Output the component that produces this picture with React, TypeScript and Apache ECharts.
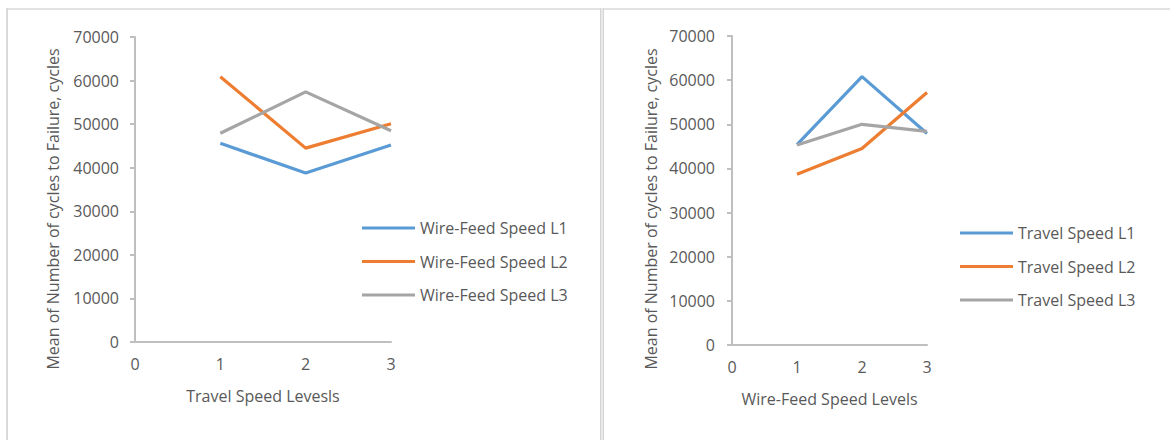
import React, { useEffect, useRef } from "react";
import * as echarts from "echarts";

// Levels on the horizontal axis (shared by both panels)
const levels = [1, 2, 3];

// Left panel: x = Travel Speed level, one line per Wire-Feed Speed level
const wireFeedNames = ["Wire-Feed Speed L1", "Wire-Feed Speed L2", "Wire-Feed Speed L3"];
const wireFeedL1 = [45600, 38800, 45200];
const wireFeedL2 = [60900, 44500, 50100];
const wireFeedL3 = [47900, 57400, 48500];

// Right panel: x = Wire-Feed Speed level, one line per Travel Speed level
const travelNames = ["Travel Speed L1", "Travel Speed L2", "Travel Speed L3"];
const travelL1 = [45400, 60800, 47900];
const travelL2 = [38700, 44500, 57200];
const travelL3 = [45300, 50000, 48400];

const xTicks = [0, 1, 2, 3];
const yTicks = [0, 10000, 20000, 30000, 40000, 50000, 60000, 70000];

const yTitle = "Mean of Number of cycles to Failure, cycles";
const leftXTitle = "Travel Speed Levesls";
const rightXTitle = "Wire-Feed Speed Levels";

const COLORS = ["#5b9bd5", "#ed7d31", "#a5a5a5"];
const TEXT = "#595959";
const AXIS = "#bfbfbf";
const FONT = "'Open Sans', sans-serif";

const pairs = (vals: number[]) => levels.map((l, i) => [l, vals[i]]);

const xAxisFor = (gridIndex: number, name: string) => ({
  type: "value" as const,
  gridIndex,
  min: xTicks[0],
  max: xTicks[xTicks.length - 1],
  interval: 1,
  name,
  nameLocation: "middle" as const,
  nameGap: 46,
  nameTextStyle: { color: TEXT, fontSize: 16, fontFamily: FONT },
  axisLine: { show: true, onZero: false, lineStyle: { color: AXIS, width: 2 } },
  axisTick: { show: false },
  axisLabel: { color: TEXT, fontSize: 16, fontFamily: FONT, margin: 14 },
  splitLine: { show: false },
});

const yAxisFor = (gridIndex: number, margin: number) => ({
  type: "value" as const,
  gridIndex,
  min: yTicks[0],
  max: yTicks[yTicks.length - 1],
  interval: 10000,
  axisLine: { show: true, lineStyle: { color: AXIS, width: 2 } },
  axisTick: { show: true, length: 5, lineStyle: { color: AXIS, width: 2 } },
  axisLabel: {
    color: TEXT,
    fontSize: 16,
    fontFamily: FONT,
    margin,
    formatter: (v: number) => String(v),
  },
  splitLine: { show: false },
});

const lineSeries = (name: string, vals: number[], idx: number, axisIndex: number) => ({
  type: "line" as const,
  name,
  xAxisIndex: axisIndex,
  yAxisIndex: axisIndex,
  data: pairs(vals),
  symbol: "none",
  color: COLORS[idx],
  lineStyle: { color: COLORS[idx], width: 3.2 },
});

const legendFor = (names: string[], left: number, top: number) => ({
  data: names,
  orient: "vertical" as const,
  left,
  top,
  padding: 0,
  icon: "rect",
  itemWidth: 53,
  itemHeight: 3.2,
  itemGap: 13.5,
  textStyle: { color: TEXT, fontSize: 16, fontFamily: FONT, lineHeight: 20 },
});

export default function App() {
  const ref = useRef<HTMLDivElement>(null);

  useEffect(() => {
    if (!ref.current) return;
    const chart = echarts.init(ref.current, null, { renderer: "svg" });
    chart.setOption({
      animation: false,
      backgroundColor: "#ffffff",
      textStyle: { fontFamily: FONT },
      grid: [
        { left: 135, top: 37, width: 256, height: 305 },
        { left: 732, top: 36, width: 195, height: 309 },
      ],
      xAxis: [xAxisFor(0, leftXTitle), xAxisFor(1, rightXTitle)],
      yAxis: [yAxisFor(0, 16), yAxisFor(1, 17)],
      legend: [legendFor(wireFeedNames, 362, 218), legendFor(travelNames, 960, 223)],
      series: [
        lineSeries(wireFeedNames[0], wireFeedL1, 0, 0),
        lineSeries(wireFeedNames[1], wireFeedL2, 1, 0),
        lineSeries(wireFeedNames[2], wireFeedL3, 2, 0),
        lineSeries(travelNames[0], travelL1, 0, 1),
        lineSeries(travelNames[1], travelL2, 1, 1),
        lineSeries(travelNames[2], travelL3, 2, 1),
      ],
      graphic: [
        // panel frames
        { type: "rect", shape: { x: 6, y: 8, width: 1164, height: 2 }, style: { fill: "#e2e2e2" }, silent: true },
        { type: "rect", shape: { x: 6, y: 8, width: 2, height: 432 }, style: { fill: "#d9d9d9" }, silent: true },
        { type: "rect", shape: { x: 600, y: 8, width: 4, height: 432 }, style: { fill: "#e9e9e9" }, silent: true },
        { type: "rect", shape: { x: 600, y: 8, width: 1, height: 432 }, style: { fill: "#d4d4d4" }, silent: true },
        { type: "rect", shape: { x: 603, y: 8, width: 1, height: 432 }, style: { fill: "#d4d4d4" }, silent: true },
        // vertical axis titles
        {
          type: "text", x: 53, y: 209, rotation: Math.PI / 2,
          style: { text: yTitle, fill: TEXT, font: `16px ${FONT}`, align: "center", verticalAlign: "middle" },
        },
        {
          type: "text", x: 651, y: 209, rotation: Math.PI / 2,
          style: { text: yTitle, fill: TEXT, font: `16px ${FONT}`, align: "center", verticalAlign: "middle" },
        },
      ],
    });
    return () => chart.dispose();
  }, []);

  return (
    <div
      ref={ref}
      style={{ position: "fixed", left: 0, top: 0, width: 1170, height: 440, background: "#fff" }}
    />
  );
}
